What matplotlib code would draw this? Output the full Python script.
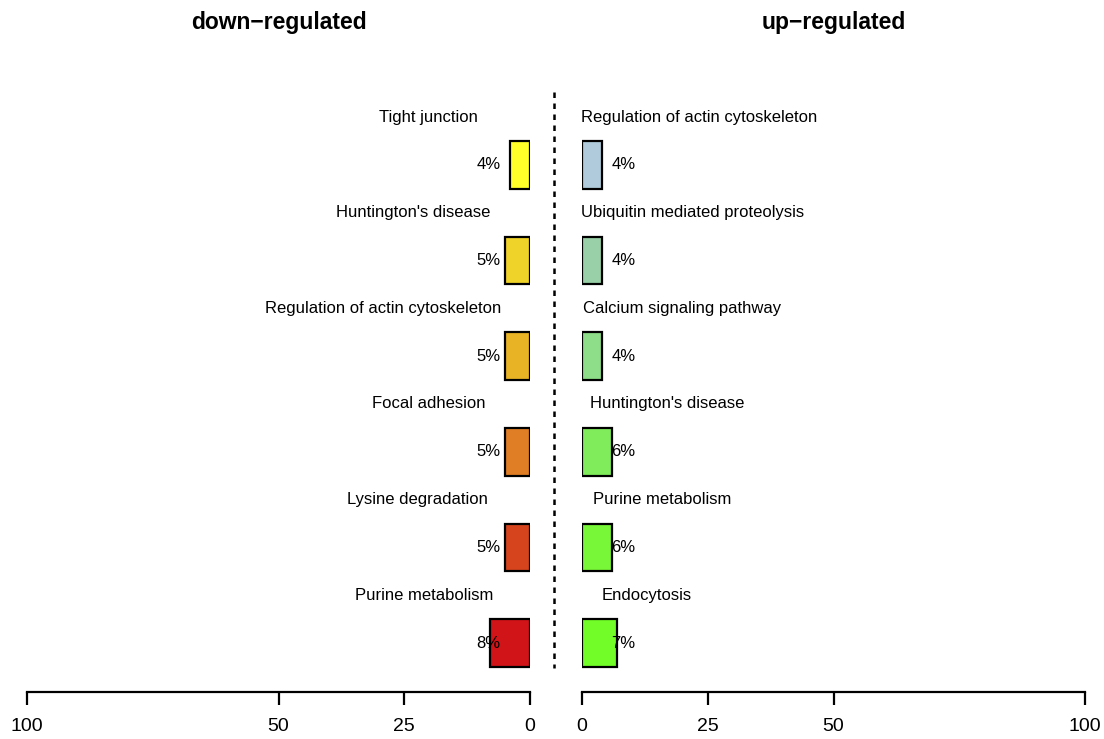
import matplotlib
matplotlib.use("Agg")
import matplotlib.pyplot as plt
from matplotlib.lines import Line2D

# ---- data -------------------------------------------------------------
down_terms = ["Tight junction", "Huntington's disease",
              "Regulation of actin cytoskeleton", "Focal adhesion",
              "Lysine degradation", "Purine metabolism"]
down_pct = [4, 5, 5, 5, 5, 8]

up_terms = ["Regulation of actin cytoskeleton", "Ubiquitin mediated proteolysis",
            "Calcium signaling pathway", "Huntington's disease",
            "Purine metabolism", "Endocytosis"]
up_pct = [4, 4, 4, 6, 6, 7]

axis_ticks = [0, 25, 50, 100]

# ---- styling ----------------------------------------------------------
down_colors = ["#FFFF2A", "#F0D328", "#E8B325", "#E07E25", "#D6441E", "#D01418"]
up_colors = ["#B0CCDC", "#99D0A8", "#8EDD88", "#80EC5C", "#78F638", "#72FD28"]

# horizontal centre of each term label, measured from the zero line (axis units)
down_label_x = [20.1, 23.3, 29.2, 20.1, 22.3, 21.1]
up_label_x = [23.3, 22.0, 19.9, 17.0, 16.0, 12.9]
value_label_x = 5.8

plt.rcParams["font.family"] = ["Liberation Sans", "DejaVu Sans"]

W, H = 1104, 739
fig = plt.figure(figsize=(W / 100, H / 100), dpi=100)
fig.patch.set_facecolor("white")

# vertical layout (pixels from top)
row_top_px = 92
axis_px = 692
row0_px = 165
row_step_px = 95.6
y_top = (row_top_px - row0_px) / row_step_px
y_bot = (axis_px - row0_px) / row_step_px


def make_axes(left_px, right_px):
    ax = fig.add_axes([left_px / W, 1 - axis_px / H,
                       (right_px - left_px) / W, (axis_px - row_top_px) / H])
    ax.set_ylim(y_bot, y_top)
    for s in ("top", "left", "right"):
        ax.spines[s].set_visible(False)
    ax.spines["bottom"].set_linewidth(1.6)
    ax.set_yticks([])
    ax.set_xticks(axis_ticks)
    ax.set_xticklabels([str(t) for t in axis_ticks])
    ax.tick_params(axis="x", direction="out", length=9, width=1.6,
                   pad=10, labelsize=14)
    ax.patch.set_visible(False)
    return ax


ax_l = make_axes(27, 530)
ax_l.set_xlim(100, 0)
ax_r = make_axes(582, 1085)
ax_r.set_xlim(0, 100)

rows = range(len(down_pct))

ax_l.barh(list(rows), down_pct, height=0.5, color=down_colors,
          edgecolor="black", linewidth=1.6)
ax_r.barh(list(rows), up_pct, height=0.5, color=up_colors,
          edgecolor="black", linewidth=1.6)

label_size = 12
for i in rows:
    ax_l.text(value_label_x, i, f"{down_pct[i]}%", ha="right", va="center",
              fontsize=label_size)
    ax_l.text(down_label_x[i], i - 0.5, down_terms[i], ha="center",
              va="center", fontsize=label_size)
    ax_r.text(value_label_x, i, f"{up_pct[i]}%", ha="left", va="center",
              fontsize=label_size)
    ax_r.text(up_label_x[i], i - 0.5, up_terms[i], ha="center",
              va="center", fontsize=label_size)

# panel headings
fig.text((27 + 530) / 2 / W, 1 - 22 / H, "down\u2212regulated", ha="center",
         va="center", fontsize=16.5, fontweight="bold")
fig.text((582 + 1085) / 2 / W, 1 - 22 / H, "up\u2212regulated", ha="center",
         va="center", fontsize=16.5, fontweight="bold")

# dotted divider between the two panels
fig.add_artist(Line2D([553.5 / W, 553.5 / W], [1 - 92 / H, 1 - 668 / H],
                      transform=fig.transFigure, color="black",
                      linewidth=1.8, linestyle=(0, (2.2, 2.2))))

fig.savefig("out.png", dpi=100, facecolor="white")
